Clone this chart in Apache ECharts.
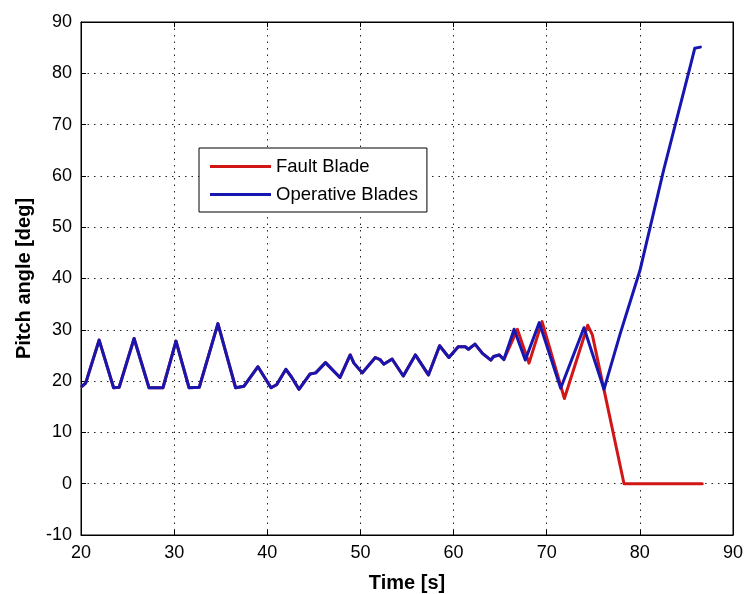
<!DOCTYPE html>
<html>
<head>
<meta charset="utf-8">
<script src="https://cdn.jsdelivr.net/npm/echarts@6/dist/echarts.min.js"></script>
<style>
  html, body { margin: 0; padding: 0; background: #ffffff; }
  #chart { width: 746px; height: 594px; }
</style>
</head>
<body>
<div id="chart"></div>
<script>
// Pitch history common to all three blades before the fault (time in s, angle in deg)
const sharedTime = [20.1, 20.5, 21.95, 23.5, 24.1, 25.7, 27.3, 28.8, 30.2, 31.6, 32.7, 34.7,
  36.6, 37.5, 39.0, 40.4, 41.0, 42.0, 42.6, 43.4, 44.6, 45.2, 46.25, 47.8, 48.9, 49.3,
  50.2, 51.6, 52.1, 52.5, 53.4, 54.6, 55.9, 57.3, 58.5, 59.5, 60.5, 61.25, 61.6, 62.3,
  63.1, 64.0, 64.3, 64.9, 65.4];
const sharedPitch = [19.0, 19.6, 28.0, 18.7, 18.8, 28.3, 18.7, 18.7, 27.8, 18.7, 18.8, 31.2,
  18.7, 19.0, 22.8, 18.7, 19.3, 22.3, 20.8, 18.4, 21.4, 21.6, 23.6, 20.7, 25.1, 23.5,
  21.6, 24.6, 24.2, 23.3, 24.3, 21.0, 25.1, 21.2, 26.9, 24.6, 26.7, 26.7, 26.2, 27.2,
  25.4, 24.1, 24.8, 25.1, 24.2];

// Operative blades after the fault: oscillation, then feathering ramp
const operativeTime = [66.5, 67.7, 69.2, 71.5, 74.0, 76.15, 77.9, 80.0, 82.55, 85.4, 85.9, 86.5];
const operativePitch = [30.1, 24.1, 31.4, 18.6, 30.4, 18.4, 29.3, 41.5, 61.1, 81.3, 84.9, 85.1];

// Faulty blade after the fault: oscillation, then drop to 0 deg
const faultTime = [66.85, 68.1, 69.5, 71.9, 74.4, 74.9, 76.2, 78.3, 86.7];
const faultPitch = [30.1, 23.5, 31.6, 16.6, 30.9, 29.0, 17.9, 0.0, 0.0];

const seriesNames = ['Fault Blade', 'Operative Blades'];
const xRange = [20, 90, 10];
const yRange = [-10, 90, 10];

function pairs(ts, vs) { return ts.map((t, i) => [t, vs[i]]); }

const faultData = pairs(sharedTime.concat(faultTime), sharedPitch.concat(faultPitch));
const operativeData = pairs(sharedTime.concat(operativeTime), sharedPitch.concat(operativePitch));

const tickFont = "'Liberation Sans Narrow', 'Liberation Sans', Arial, sans-serif";
const textFont = "'Liberation Sans', Arial, sans-serif";
const gridDots = { color: '#222', width: 1, type: [1.5, 5] };

const chart = echarts.init(document.getElementById('chart'), null, { renderer: 'canvas' });

chart.setOption({
  animation: false,
  backgroundColor: '#ffffff',
  grid: {
    left: 81, right: 13, top: 22, bottom: 59,
    containLabel: false,
    outerBoundsMode: 'none',
    show: true, borderColor: '#000', borderWidth: 1, backgroundColor: '#ffffff'
  },
  legend: {
    data: seriesNames,
    orient: 'vertical',
    left: 199, top: 148,
    padding: [9, 9, 8, 11],
    itemGap: 9,
    itemWidth: 61, itemHeight: 3,
    icon: 'rect',
    backgroundColor: '#ffffff',
    borderColor: '#000', borderWidth: 1, borderRadius: 0,
    textStyle: { fontFamily: textFont, fontSize: 18.5, color: '#000', lineHeight: 18 }
  },
  xAxis: [{
    type: 'value', min: xRange[0], max: xRange[1], interval: xRange[2],
    name: 'Time [s]', nameLocation: 'middle', nameGap: 38,
    nameTextStyle: { fontFamily: textFont, fontSize: 20, fontWeight: 'bold', color: '#000' },
    axisLine: { show: true, onZero: false, lineStyle: { color: '#000', width: 1 } },
    axisTick: { show: true, inside: true, length: 5, lineStyle: { color: '#000' } },
    axisLabel: { fontFamily: tickFont, fontSize: 18, color: '#000', margin: 9 },
    splitLine: { show: true, lineStyle: gridDots }
  }, {
    type: 'value', position: 'top', min: xRange[0], max: xRange[1], interval: xRange[2],
    axisLine: { show: true, onZero: false, lineStyle: { color: '#000', width: 1 } },
    axisTick: { show: true, inside: true, length: 5, lineStyle: { color: '#000' } },
    axisLabel: { show: false }, splitLine: { show: false }
  }],
  yAxis: [{
    type: 'value', min: yRange[0], max: yRange[1], interval: yRange[2],
    name: 'Pitch angle [deg]', nameLocation: 'middle', nameGap: 47, nameRotate: 90,
    nameTextStyle: { fontFamily: textFont, fontSize: 20, fontWeight: 'bold', color: '#000' },
    axisLine: { show: true, onZero: false, lineStyle: { color: '#000', width: 1 } },
    axisTick: { show: true, inside: true, length: 5, lineStyle: { color: '#000' } },
    axisLabel: { fontFamily: tickFont, fontSize: 18, color: '#000', margin: 9 },
    splitLine: { show: true, lineStyle: gridDots }
  }, {
    type: 'value', position: 'right', min: yRange[0], max: yRange[1], interval: yRange[2],
    axisLine: { show: true, onZero: false, lineStyle: { color: '#000', width: 1 } },
    axisTick: { show: true, inside: true, length: 5, lineStyle: { color: '#000' } },
    axisLabel: { show: false }, splitLine: { show: false }
  }],
  series: [{
    name: seriesNames[0], type: 'line', data: faultData,
    showSymbol: false, symbol: 'none',
    color: '#d21616',
    lineStyle: { color: '#d21616', width: 3, join: 'round', cap: 'round' },
    z: 3
  }, {
    name: seriesNames[1], type: 'line', data: operativeData,
    showSymbol: false, symbol: 'none',
    color: '#1616b0',
    lineStyle: { color: '#1616b0', width: 3, join: 'round', cap: 'round' },
    z: 4
  }]
});
</script>
</body>
</html>
